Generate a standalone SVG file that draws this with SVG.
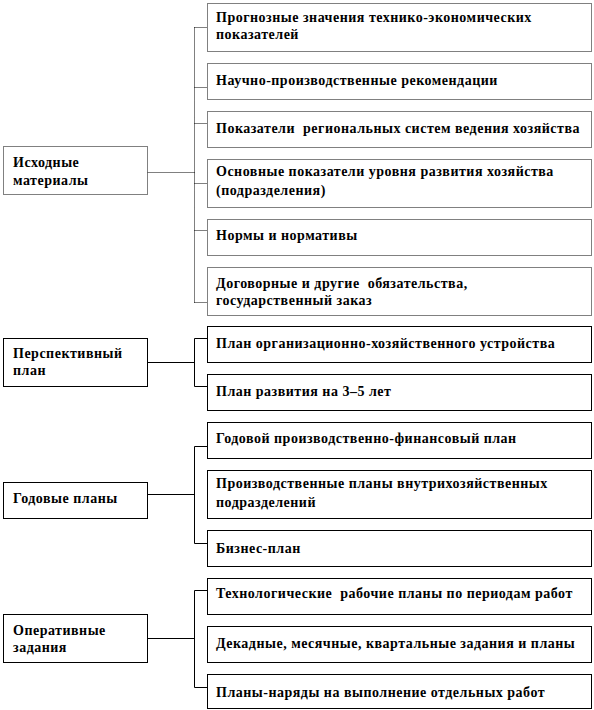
<svg xmlns="http://www.w3.org/2000/svg" width="594" height="710" viewBox="0 0 594 710">
<style>
.box{fill:#fff;stroke:#000;stroke-width:1}
.dot{stroke-dasharray:1 1}
.ln{fill:none;stroke:#000;stroke-width:1}
.t{font-family:'Liberation Serif','Times New Roman',serif;font-weight:bold;font-size:14px;letter-spacing:0.5px;fill:#000;white-space:pre}
</style>
<rect width="594" height="710" fill="#fff"/>
<g id="connectors">
<path class="ln dot" d="M147.5 172.5H194.5M194.5 27.5V302.5M194.5 27.5H207M194.5 87.5H207M194.5 123.5H207M194.5 183.5H207M194.5 230.5H207M194.5 302.5H207"/>
<path class="ln" d="M147.5 362.5H194.5M194.5 338.5V386.5M194.5 338.5H207M194.5 386.5H207"/>
<path class="ln" d="M147.5 494.5H194.5M194.5 446.5V543.5M194.5 446.5H207M194.5 543.5H207"/>
<path class="ln" d="M147.5 638.5H194.5M194.5 590.5V687.5M194.5 590.5H207M194.5 687.5H207"/>
</g>
<g id="n-ishodnye"><rect class="box dot" x="3.5" y="146.5" width="144" height="48"/><text class="t" x="13" y="167">Исходные</text><text class="t" x="13" y="185">материалы</text></g>
<g id="n-prognoz"><rect class="box dot" x="207.5" y="3.5" width="384" height="48"/><text class="t" x="216" y="22">Прогнозные значения технико-экономических</text><text class="t" x="216" y="39">показателей</text></g>
<g id="n-nauchno"><rect class="box dot" x="207.5" y="63.5" width="384" height="36"/><text class="t" x="216" y="85">Научно-производственные рекомендации</text></g>
<g id="n-pokazateli"><rect class="box dot" x="207.5" y="111.5" width="384" height="36"/><text class="t" x="216" y="133">Показатели  региональных систем ведения хозяйства</text></g>
<g id="n-osnovnye"><rect class="box dot" x="207.5" y="159.5" width="384" height="48"/><text class="t" x="216" y="176">Основные показатели уровня развития хозяйства</text><text class="t" x="216" y="195">(подразделения)</text></g>
<g id="n-normy"><rect class="box dot" x="207.5" y="219.5" width="384" height="36"/><text class="t" x="216" y="240">Нормы и нормативы</text></g>
<g id="n-dogovor"><rect class="box dot" x="207.5" y="267.5" width="384" height="48"/><text class="t" x="216" y="288">Договорные и другие  обязательства,</text><text class="t" x="216" y="305">государственный заказ</text></g>

<g id="n-perspektiv"><rect class="box" x="3.5" y="338.5" width="144" height="48"/><text class="t" x="13" y="358">Перспективный</text><text class="t" x="13" y="375">план</text></g>
<g id="n-plan-org"><rect class="box" x="207.5" y="326.5" width="384" height="36"/><text class="t" x="216" y="348">План организационно-хозяйственного устройства</text></g>
<g id="n-plan-razv"><rect class="box" x="207.5" y="374.5" width="384" height="36"/><text class="t" x="216" y="396">План развития на 3–5 лет</text></g>

<g id="n-godovye"><rect class="box" x="3.5" y="482.5" width="144" height="36"/><text class="t" x="13" y="503">Годовые планы</text></g>
<g id="n-god-pf"><rect class="box" x="207.5" y="422.5" width="384" height="36"/><text class="t" x="216" y="443">Годовой производственно-финансовый план</text></g>
<g id="n-proizv"><rect class="box" x="207.5" y="470.5" width="384" height="48"/><text class="t" x="216" y="488">Производственные планы внутрихозяйственных</text><text class="t" x="216" y="507">подразделений</text></g>
<g id="n-biznes"><rect class="box" x="207.5" y="530.5" width="384" height="36"/><text class="t" x="216" y="553">Бизнес-план</text></g>

<g id="n-operativ"><rect class="box" x="3.5" y="614.5" width="144" height="48"/><text class="t" x="13" y="635">Оперативные</text><text class="t" x="13" y="652">задания</text></g>
<g id="n-tehnol"><rect class="box" x="207.5" y="578.5" width="384" height="36"/><text class="t" x="216" y="598">Технологические  рабочие планы по периодам работ</text></g>
<g id="n-dekad"><rect class="box" x="207.5" y="626.5" width="384" height="36"/><text class="t" x="216" y="648">Декадные, месячные, квартальные задания и планы</text></g>
<g id="n-naryady"><rect class="box" x="207.5" y="674.5" width="384" height="34"/><text class="t" x="216" y="697">Планы-наряды на выполнение отдельных работ</text></g>
</svg>
